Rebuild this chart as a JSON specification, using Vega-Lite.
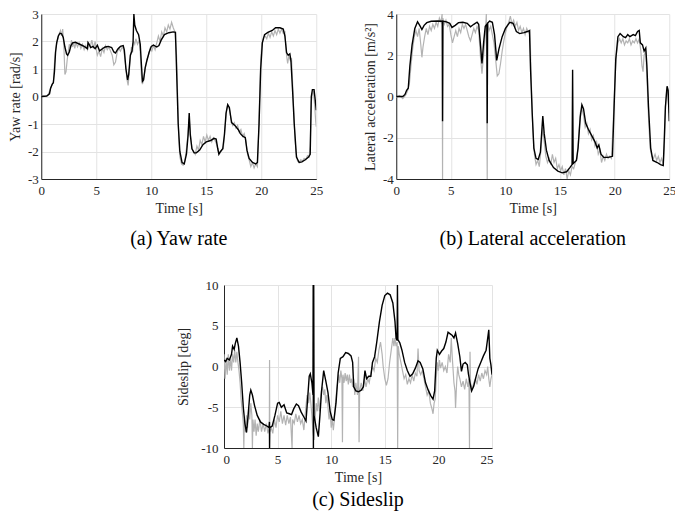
{
  "$schema": "https://vega.github.io/schema/vega-lite/v6.json",
  "padding": {"left": 8, "top": 8, "right": 2, "bottom": 4},
  "background": "white",
  "datasets": {
    "a_meas": [
      {"t":0,"v":0.02},{"t":0.3,"v":0.0},{"t":0.6,"v":0.04},{"t":0.8,"v":0.25},{"t":0.95,"v":0.4},{"t":1.1,"v":0.5},{"t":1.2,"v":1.2},{"t":1.3,"v":1.7},{"t":1.45,"v":2.0},{"t":1.6,"v":2.25},{"t":1.75,"v":2.4},{"t":1.85,"v":2.2},{"t":1.95,"v":2.45},{"t":2.05,"v":1.9},{"t":2.15,"v":0.8},{"t":2.25,"v":0.9},{"t":2.35,"v":1.3},{"t":2.45,"v":1.6},{"t":2.55,"v":1.9},{"t":2.65,"v":1.75},{"t":2.75,"v":2.05},{"t":2.85,"v":1.8},{"t":2.95,"v":1.95},{"t":3.05,"v":1.75},{"t":3.15,"v":1.95},{"t":3.3,"v":1.8},{"t":3.45,"v":1.95},{"t":3.6,"v":1.75},{"t":3.75,"v":1.9},{"t":3.9,"v":1.7},{"t":4.05,"v":1.85},{"t":4.2,"v":1.7},{"t":4.3,"v":1.95},{"t":4.45,"v":1.8},{"t":4.6,"v":2.05},{"t":4.75,"v":1.75},{"t":4.9,"v":2.0},{"t":5.0,"v":1.7},{"t":5.1,"v":1.5},{"t":5.25,"v":1.65},{"t":5.4,"v":1.45},{"t":5.55,"v":1.75},{"t":5.7,"v":1.6},{"t":5.85,"v":1.85},{"t":6.0,"v":1.7},{"t":6.15,"v":1.8},{"t":6.3,"v":1.65},{"t":6.45,"v":1.5},{"t":6.6,"v":1.15},{"t":6.75,"v":1.25},{"t":6.9,"v":1.6},{"t":7.05,"v":1.75},{"t":7.2,"v":1.65},{"t":7.35,"v":1.8},{"t":7.5,"v":1.7},{"t":7.65,"v":1.2},{"t":7.8,"v":0.6},{"t":7.9,"v":0.4},{"t":8.0,"v":0.9},{"t":8.1,"v":1.4},{"t":8.2,"v":1.8},{"t":8.3,"v":1.6},{"t":8.4,"v":2.0},{"t":8.5,"v":1.9},{"t":8.6,"v":2.1},{"t":8.75,"v":1.9},{"t":8.9,"v":2.05},{"t":9.0,"v":1.6},{"t":9.1,"v":0.8},{"t":9.2,"v":0.45},{"t":9.3,"v":0.6},{"t":9.45,"v":1.0},{"t":9.6,"v":1.35},{"t":9.75,"v":1.5},{"t":9.9,"v":1.75},{"t":10.05,"v":1.65},{"t":10.2,"v":1.85},{"t":10.35,"v":1.7},{"t":10.5,"v":1.95},{"t":10.65,"v":2.2},{"t":10.8,"v":2.0},{"t":10.95,"v":2.35},{"t":11.1,"v":2.2},{"t":11.25,"v":2.5},{"t":11.4,"v":2.35},{"t":11.55,"v":2.6},{"t":11.7,"v":2.45},{"t":11.85,"v":2.7},{"t":12.0,"v":2.5},{"t":12.15,"v":2.35},{"t":12.3,"v":1.5},{"t":12.4,"v":0.0},{"t":12.5,"v":-1.5},{"t":12.6,"v":-2.2},{"t":12.75,"v":-2.45},{"t":12.9,"v":-2.5},{"t":13.05,"v":-2.35},{"t":13.2,"v":-1.9},{"t":13.35,"v":-1.3},{"t":13.45,"v":-0.8},{"t":13.55,"v":-1.3},{"t":13.7,"v":-1.9},{"t":13.85,"v":-2.0},{"t":14.0,"v":-2.1},{"t":14.15,"v":-1.8},{"t":14.3,"v":-1.95},{"t":14.45,"v":-1.6},{"t":14.6,"v":-1.75},{"t":14.75,"v":-1.45},{"t":14.9,"v":-1.65},{"t":15.05,"v":-1.4},{"t":15.2,"v":-1.6},{"t":15.35,"v":-1.45},{"t":15.5,"v":-1.65},{"t":15.65,"v":-1.5},{"t":15.8,"v":-1.6},{"t":15.95,"v":-1.75},{"t":16.1,"v":-2.0},{"t":16.25,"v":-2.05},{"t":16.4,"v":-1.95},{"t":16.55,"v":-1.9},{"t":16.7,"v":-1.2},{"t":16.85,"v":-0.5},{"t":16.95,"v":-0.3},{"t":17.1,"v":-0.45},{"t":17.25,"v":-0.8},{"t":17.4,"v":-1.05},{"t":17.55,"v":-0.95},{"t":17.7,"v":-1.15},{"t":17.85,"v":-1.05},{"t":18.0,"v":-1.3},{"t":18.15,"v":-1.2},{"t":18.3,"v":-1.45},{"t":18.45,"v":-1.35},{"t":18.6,"v":-1.6},{"t":18.75,"v":-2.1},{"t":18.9,"v":-2.3},{"t":19.05,"v":-2.55},{"t":19.2,"v":-2.4},{"t":19.35,"v":-2.6},{"t":19.5,"v":-2.45},{"t":19.65,"v":-2.55},{"t":19.75,"v":-1.5},{"t":19.85,"v":0.0},{"t":19.95,"v":1.3},{"t":20.05,"v":1.9},{"t":20.2,"v":2.15},{"t":20.35,"v":2.2},{"t":20.5,"v":2.1},{"t":20.65,"v":2.3},{"t":20.8,"v":2.15},{"t":20.95,"v":2.35},{"t":21.1,"v":2.2},{"t":21.25,"v":2.4},{"t":21.4,"v":2.25},{"t":21.55,"v":2.45},{"t":21.7,"v":2.3},{"t":21.85,"v":2.45},{"t":22.0,"v":2.3},{"t":22.15,"v":2.35},{"t":22.3,"v":1.5},{"t":22.4,"v":1.2},{"t":22.5,"v":1.45},{"t":22.65,"v":1.3},{"t":22.75,"v":1.4},{"t":22.85,"v":0.5},{"t":22.95,"v":-0.5},{"t":23.05,"v":-1.4},{"t":23.15,"v":-2.0},{"t":23.3,"v":-2.35},{"t":23.45,"v":-2.4},{"t":23.6,"v":-2.3},{"t":23.75,"v":-2.35},{"t":23.9,"v":-2.25},{"t":24.05,"v":-2.3},{"t":24.2,"v":-2.15},{"t":24.35,"v":-2.2},{"t":24.45,"v":-1.8},{"t":24.55,"v":-0.2},{"t":24.65,"v":0.1},{"t":24.75,"v":0.2},{"t":24.85,"v":-0.3},{"t":24.95,"v":-0.9},{"t":25.0,"v":-1.1}
    ],
    "a_est": [
      {"t":0,"v":0},{"t":0.5,"v":0.02},{"t":0.75,"v":0.1},{"t":0.85,"v":0.3},{"t":1.0,"v":0.45},{"t":1.1,"v":0.5},{"t":1.2,"v":0.9},{"t":1.3,"v":1.6},{"t":1.4,"v":1.95},{"t":1.55,"v":2.2},{"t":1.7,"v":2.3},{"t":1.85,"v":2.28},{"t":2.0,"v":2.15},{"t":2.15,"v":1.8},{"t":2.3,"v":1.55},{"t":2.4,"v":1.5},{"t":2.55,"v":1.62},{"t":2.7,"v":1.85},{"t":2.85,"v":1.95},{"t":3.1,"v":1.97},{"t":3.5,"v":1.9},{"t":3.9,"v":1.82},{"t":4.2,"v":1.74},{"t":4.25,"v":1.96},{"t":4.35,"v":1.9},{"t":4.5,"v":1.78},{"t":4.7,"v":1.82},{"t":4.9,"v":1.74},{"t":5.1,"v":1.86},{"t":5.3,"v":1.66},{"t":5.5,"v":1.72},{"t":5.8,"v":1.8},{"t":6.1,"v":1.82},{"t":6.4,"v":1.78},{"t":6.6,"v":1.62},{"t":6.75,"v":1.58},{"t":6.95,"v":1.72},{"t":7.2,"v":1.82},{"t":7.45,"v":1.85},{"t":7.55,"v":1.7},{"t":7.7,"v":1.0},{"t":7.85,"v":0.6},{"t":7.95,"v":0.8},{"t":8.1,"v":1.5},{"t":8.25,"v":1.65},{"t":8.35,"v":2.0},{"t":8.42,"v":3.0},{"t":8.5,"v":2.6},{"t":8.65,"v":2.4},{"t":8.85,"v":2.25},{"t":9.0,"v":1.9},{"t":9.1,"v":1.2},{"t":9.2,"v":0.55},{"t":9.3,"v":0.6},{"t":9.45,"v":1.05},{"t":9.6,"v":1.3},{"t":9.8,"v":1.6},{"t":10.0,"v":1.82},{"t":10.2,"v":1.87},{"t":10.5,"v":1.8},{"t":10.7,"v":1.85},{"t":10.9,"v":2.05},{"t":11.2,"v":2.25},{"t":11.6,"v":2.32},{"t":12.0,"v":2.35},{"t":12.2,"v":2.33},{"t":12.3,"v":1.0},{"t":12.45,"v":-1.0},{"t":12.6,"v":-2.0},{"t":12.8,"v":-2.4},{"t":13.0,"v":-2.45},{"t":13.2,"v":-2.1},{"t":13.35,"v":-1.4},{"t":13.45,"v":-0.6},{"t":13.55,"v":-1.4},{"t":13.7,"v":-1.9},{"t":13.9,"v":-2.05},{"t":14.1,"v":-2.05},{"t":14.4,"v":-1.95},{"t":14.7,"v":-1.75},{"t":15.0,"v":-1.65},{"t":15.4,"v":-1.6},{"t":15.7,"v":-1.52},{"t":15.9,"v":-1.55},{"t":16.05,"v":-1.9},{"t":16.15,"v":-2.1},{"t":16.3,"v":-2.0},{"t":16.5,"v":-1.9},{"t":16.65,"v":-1.4},{"t":16.8,"v":-0.6},{"t":16.95,"v":-0.3},{"t":17.1,"v":-0.4},{"t":17.3,"v":-0.95},{"t":17.6,"v":-1.05},{"t":17.9,"v":-1.2},{"t":18.1,"v":-1.35},{"t":18.35,"v":-1.45},{"t":18.55,"v":-1.5},{"t":18.7,"v":-1.95},{"t":18.9,"v":-2.25},{"t":19.2,"v":-2.4},{"t":19.5,"v":-2.45},{"t":19.65,"v":-2.4},{"t":19.8,"v":-1.0},{"t":19.95,"v":1.0},{"t":20.1,"v":1.95},{"t":20.3,"v":2.25},{"t":20.6,"v":2.33},{"t":21.0,"v":2.4},{"t":21.3,"v":2.5},{"t":21.7,"v":2.5},{"t":22.0,"v":2.45},{"t":22.15,"v":2.2},{"t":22.3,"v":1.6},{"t":22.45,"v":1.5},{"t":22.6,"v":1.55},{"t":22.7,"v":1.3},{"t":22.85,"v":0.2},{"t":23.0,"v":-1.0},{"t":23.2,"v":-2.2},{"t":23.45,"v":-2.4},{"t":23.7,"v":-2.38},{"t":24.0,"v":-2.3},{"t":24.3,"v":-2.2},{"t":24.45,"v":-2.1},{"t":24.55,"v":0.0},{"t":24.65,"v":0.25},{"t":24.8,"v":0.25},{"t":24.9,"v":-0.1},{"t":25.0,"v":-0.5}
    ],
    "b_meas": [
      {"t":0,"v":-0.05},{"t":0.3,"v":0.05},{"t":0.6,"v":-0.1},{"t":0.9,"v":0.1},{"t":1.05,"v":0.3},{"t":1.2,"v":0.6},{"t":1.35,"v":1.5},{"t":1.5,"v":2.3},{"t":1.65,"v":2.9},{"t":1.8,"v":3.2},{"t":1.95,"v":2.9},{"t":2.1,"v":3.3},{"t":2.25,"v":2.5},{"t":2.35,"v":1.9},{"t":2.45,"v":2.4},{"t":2.6,"v":2.9},{"t":2.75,"v":3.3},{"t":2.9,"v":3.0},{"t":3.05,"v":3.4},{"t":3.2,"v":3.2},{"t":3.35,"v":3.5},{"t":3.5,"v":3.3},{"t":3.65,"v":3.6},{"t":3.8,"v":3.4},{"t":3.95,"v":3.8},{"t":4.1,"v":3.6},{"t":4.2,"v":4.0},{"t":4.24,"v":-4.0},{"t":4.27,"v":3.8},{"t":4.4,"v":3.5},{"t":4.55,"v":3.7},{"t":4.7,"v":3.4},{"t":4.85,"v":3.5},{"t":5.0,"v":3.0},{"t":5.15,"v":2.6},{"t":5.3,"v":2.9},{"t":5.45,"v":3.2},{"t":5.6,"v":2.9},{"t":5.75,"v":3.3},{"t":5.9,"v":3.1},{"t":6.05,"v":3.5},{"t":6.2,"v":3.3},{"t":6.35,"v":3.5},{"t":6.5,"v":3.2},{"t":6.65,"v":2.9},{"t":6.8,"v":2.7},{"t":6.95,"v":3.0},{"t":7.1,"v":3.3},{"t":7.25,"v":3.1},{"t":7.4,"v":3.4},{"t":7.55,"v":3.2},{"t":7.7,"v":2.0},{"t":7.85,"v":1.1},{"t":8.0,"v":2.0},{"t":8.15,"v":3.0},{"t":8.25,"v":4.0},{"t":8.33,"v":-4.0},{"t":8.37,"v":3.6},{"t":8.5,"v":3.2},{"t":8.65,"v":3.4},{"t":8.8,"v":3.0},{"t":8.95,"v":2.6},{"t":9.1,"v":1.8},{"t":9.25,"v":1.0},{"t":9.4,"v":1.1},{"t":9.55,"v":1.6},{"t":9.7,"v":2.2},{"t":9.85,"v":2.7},{"t":10.0,"v":3.1},{"t":10.15,"v":3.4},{"t":10.3,"v":3.6},{"t":10.45,"v":3.9},{"t":10.6,"v":3.5},{"t":10.75,"v":3.7},{"t":10.9,"v":3.4},{"t":11.05,"v":3.6},{"t":11.2,"v":3.2},{"t":11.35,"v":3.4},{"t":11.5,"v":3.1},{"t":11.65,"v":3.3},{"t":11.8,"v":3.0},{"t":11.95,"v":3.3},{"t":12.1,"v":3.1},{"t":12.25,"v":3.2},{"t":12.35,"v":1.0},{"t":12.5,"v":-1.5},{"t":12.65,"v":-2.8},{"t":12.8,"v":-3.3},{"t":12.95,"v":-3.1},{"t":13.1,"v":-3.4},{"t":13.25,"v":-2.6},{"t":13.4,"v":-1.5},{"t":13.55,"v":-2.2},{"t":13.7,"v":-2.9},{"t":13.85,"v":-3.2},{"t":14.0,"v":-3.0},{"t":14.15,"v":-3.3},{"t":14.3,"v":-2.8},{"t":14.45,"v":-3.2},{"t":14.6,"v":-3.0},{"t":14.75,"v":-3.5},{"t":14.9,"v":-3.3},{"t":15.05,"v":-3.6},{"t":15.2,"v":-3.4},{"t":15.35,"v":-3.8},{"t":15.5,"v":-3.5},{"t":15.65,"v":-4.0},{"t":15.8,"v":-3.6},{"t":15.95,"v":-3.8},{"t":16.1,"v":-3.4},{"t":16.25,"v":-3.5},{"t":16.4,"v":-3.2},{"t":16.55,"v":-3.0},{"t":16.7,"v":-2.0},{"t":16.85,"v":-0.8},{"t":17.0,"v":-0.6},{"t":17.15,"v":-0.9},{"t":17.3,"v":-1.5},{"t":17.45,"v":-1.3},{"t":17.6,"v":-1.8},{"t":17.75,"v":-1.6},{"t":17.9,"v":-2.1},{"t":18.05,"v":-1.9},{"t":18.2,"v":-2.4},{"t":18.35,"v":-2.2},{"t":18.5,"v":-2.8},{"t":18.65,"v":-2.6},{"t":18.8,"v":-3.2},{"t":18.95,"v":-2.9},{"t":19.1,"v":-3.1},{"t":19.25,"v":-2.8},{"t":19.4,"v":-3.0},{"t":19.55,"v":-2.9},{"t":19.7,"v":-3.0},{"t":19.85,"v":-1.5},{"t":20.0,"v":0.5},{"t":20.15,"v":2.0},{"t":20.3,"v":2.6},{"t":20.45,"v":2.8},{"t":20.6,"v":2.6},{"t":20.75,"v":2.8},{"t":20.9,"v":2.5},{"t":21.05,"v":2.7},{"t":21.2,"v":2.6},{"t":21.35,"v":2.8},{"t":21.5,"v":2.5},{"t":21.65,"v":2.7},{"t":21.8,"v":2.6},{"t":21.95,"v":2.8},{"t":22.1,"v":2.6},{"t":22.25,"v":2.8},{"t":22.4,"v":2.2},{"t":22.5,"v":1.5},{"t":22.6,"v":1.2},{"t":22.7,"v":2.0},{"t":22.85,"v":2.2},{"t":22.95,"v":1.0},{"t":23.1,"v":-1.0},{"t":23.25,"v":-2.5},{"t":23.4,"v":-2.9},{"t":23.55,"v":-3.0},{"t":23.7,"v":-2.8},{"t":23.85,"v":-3.1},{"t":24.0,"v":-2.9},{"t":24.15,"v":-3.2},{"t":24.3,"v":-3.0},{"t":24.45,"v":-3.3},{"t":24.55,"v":-2.5},{"t":24.65,"v":-0.5},{"t":24.75,"v":0.3},{"t":24.85,"v":0.2},{"t":24.95,"v":-0.5},{"t":25.0,"v":-0.8}
    ],
    "b_est": [
      {"t":0,"v":0},{"t":0.6,"v":0.0},{"t":0.8,"v":0.1},{"t":0.95,"v":0.3},{"t":1.1,"v":0.4},{"t":1.25,"v":1.5},{"t":1.45,"v":2.5},{"t":1.7,"v":3.3},{"t":1.95,"v":3.62},{"t":2.15,"v":3.45},{"t":2.35,"v":3.25},{"t":2.55,"v":3.45},{"t":2.8,"v":3.58},{"t":3.2,"v":3.65},{"t":3.8,"v":3.66},{"t":4.22,"v":3.65},{"t":4.24,"v":-1.2},{"t":4.27,"v":3.66},{"t":4.6,"v":3.62},{"t":4.9,"v":3.55},{"t":5.1,"v":3.35},{"t":5.4,"v":3.45},{"t":5.7,"v":3.58},{"t":6.1,"v":3.6},{"t":6.5,"v":3.55},{"t":6.8,"v":3.38},{"t":7.1,"v":3.5},{"t":7.4,"v":3.6},{"t":7.55,"v":3.5},{"t":7.7,"v":2.6},{"t":7.85,"v":1.6},{"t":8.0,"v":2.6},{"t":8.15,"v":3.4},{"t":8.3,"v":3.5},{"t":8.33,"v":-1.3},{"t":8.36,"v":3.55},{"t":8.55,"v":3.66},{"t":8.8,"v":3.6},{"t":9.0,"v":3.0},{"t":9.2,"v":1.75},{"t":9.4,"v":2.3},{"t":9.7,"v":2.9},{"t":10.0,"v":3.3},{"t":10.4,"v":3.6},{"t":10.7,"v":3.55},{"t":11.0,"v":3.15},{"t":11.3,"v":3.05},{"t":11.7,"v":3.1},{"t":12.0,"v":3.15},{"t":12.2,"v":3.2},{"t":12.3,"v":1.3},{"t":12.45,"v":-0.8},{"t":12.6,"v":-2.5},{"t":12.8,"v":-3.0},{"t":13.0,"v":-3.05},{"t":13.2,"v":-2.7},{"t":13.35,"v":-1.5},{"t":13.42,"v":-0.95},{"t":13.55,"v":-1.8},{"t":13.75,"v":-2.6},{"t":14.0,"v":-3.1},{"t":14.4,"v":-3.45},{"t":14.8,"v":-3.62},{"t":15.2,"v":-3.7},{"t":15.6,"v":-3.65},{"t":15.9,"v":-3.45},{"t":16.1,"v":-3.3},{"t":16.15,"v":1.3},{"t":16.2,"v":-3.25},{"t":16.5,"v":-3.1},{"t":16.65,"v":-2.5},{"t":16.85,"v":-1.0},{"t":17.0,"v":-0.4},{"t":17.15,"v":-0.6},{"t":17.35,"v":-1.3},{"t":17.6,"v":-1.6},{"t":17.9,"v":-1.9},{"t":18.2,"v":-2.2},{"t":18.4,"v":-2.5},{"t":18.55,"v":-2.35},{"t":18.75,"v":-2.8},{"t":19.0,"v":-2.95},{"t":19.4,"v":-2.95},{"t":19.8,"v":-2.9},{"t":19.95,"v":-0.5},{"t":20.1,"v":1.8},{"t":20.3,"v":2.9},{"t":20.5,"v":3.05},{"t":20.8,"v":2.9},{"t":21.0,"v":2.85},{"t":21.2,"v":3.0},{"t":21.4,"v":2.9},{"t":21.7,"v":3.0},{"t":21.9,"v":2.95},{"t":22.1,"v":3.15},{"t":22.25,"v":3.2},{"t":22.35,"v":2.6},{"t":22.55,"v":2.5},{"t":22.7,"v":2.2},{"t":22.85,"v":2.35},{"t":22.95,"v":1.5},{"t":23.1,"v":-0.5},{"t":23.3,"v":-2.5},{"t":23.5,"v":-3.1},{"t":23.9,"v":-3.2},{"t":24.2,"v":-3.3},{"t":24.45,"v":-3.35},{"t":24.55,"v":-2.0},{"t":24.65,"v":-0.5},{"t":24.8,"v":0.5},{"t":24.9,"v":0.3},{"t":25.0,"v":-1.2}
    ],
    "c_meas": [
      {"t":0,"v":1.5},{"t":0.1,"v":-1.5},{"t":0.2,"v":1.0},{"t":0.3,"v":-1.0},{"t":0.4,"v":1.5},{"t":0.5,"v":-0.5},{"t":0.6,"v":1.0},{"t":0.7,"v":-0.5},{"t":0.8,"v":1.5},{"t":0.9,"v":0.5},{"t":1.0,"v":2.0},{"t":1.1,"v":0.5},{"t":1.2,"v":1.8},{"t":1.3,"v":0.5},{"t":1.4,"v":-0.5},{"t":1.5,"v":-2.0},{"t":1.6,"v":-4.0},{"t":1.7,"v":-5.5},{"t":1.8,"v":-7.0},{"t":1.85,"v":-10},{"t":1.9,"v":-6.5},{"t":2.0,"v":-8.0},{"t":2.1,"v":-6.0},{"t":2.2,"v":-7.5},{"t":2.3,"v":-5.0},{"t":2.4,"v":-6.5},{"t":2.5,"v":-4.5},{"t":2.6,"v":-6.0},{"t":2.65,"v":-10},{"t":2.7,"v":-6.5},{"t":2.8,"v":-8.0},{"t":2.9,"v":-6.5},{"t":3.0,"v":-8.5},{"t":3.1,"v":-7.0},{"t":3.2,"v":-8.0},{"t":3.35,"v":-6.5},{"t":3.5,"v":-8.0},{"t":3.65,"v":-7.0},{"t":3.8,"v":-8.0},{"t":3.95,"v":-7.0},{"t":4.1,"v":-8.2},{"t":4.23,"v":-7.5},{"t":4.25,"v":0.8},{"t":4.27,"v":-8.0},{"t":4.4,"v":-7.5},{"t":4.55,"v":-8.2},{"t":4.7,"v":-6.5},{"t":4.85,"v":-7.5},{"t":5.0,"v":-6.0},{"t":5.15,"v":-6.8},{"t":5.3,"v":-5.5},{"t":5.45,"v":-7.0},{"t":5.6,"v":-6.0},{"t":5.75,"v":-7.2},{"t":5.9,"v":-6.0},{"t":6.05,"v":-7.0},{"t":6.2,"v":-6.2},{"t":6.35,"v":-10},{"t":6.4,"v":-6.5},{"t":6.55,"v":-7.0},{"t":6.7,"v":-5.8},{"t":6.85,"v":-6.8},{"t":7.0,"v":-6.0},{"t":7.15,"v":-7.0},{"t":7.3,"v":-6.5},{"t":7.45,"v":-7.8},{"t":7.6,"v":-5.5},{"t":7.75,"v":-3.5},{"t":7.9,"v":-4.5},{"t":8.0,"v":-3.2},{"t":8.1,"v":-4.5},{"t":8.2,"v":-6.0},{"t":8.3,"v":-8.0},{"t":8.4,"v":-9.0},{"t":8.5,"v":-6.5},{"t":8.6,"v":-4.5},{"t":8.7,"v":-5.5},{"t":8.8,"v":-3.8},{"t":8.9,"v":-5.5},{"t":9.0,"v":-4.0},{"t":9.1,"v":-3.0},{"t":9.2,"v":-2.5},{"t":9.3,"v":-3.5},{"t":9.4,"v":-2.8},{"t":9.5,"v":-4.5},{"t":9.6,"v":-3.5},{"t":9.7,"v":-5.0},{"t":9.8,"v":-6.5},{"t":9.9,"v":-5.5},{"t":10.0,"v":-7.5},{"t":10.1,"v":-6.5},{"t":10.2,"v":-7.8},{"t":10.3,"v":-6.5},{"t":10.4,"v":-4.5},{"t":10.5,"v":-3.0},{"t":10.6,"v":-2.0},{"t":10.7,"v":-1.0},{"t":10.8,"v":-2.0},{"t":10.9,"v":-0.5},{"t":11.0,"v":-1.5},{"t":11.05,"v":-9.3},{"t":11.1,"v":-1.0},{"t":11.2,"v":-2.0},{"t":11.3,"v":-0.8},{"t":11.4,"v":-1.8},{"t":11.5,"v":-1.0},{"t":11.6,"v":-2.2},{"t":11.7,"v":-1.0},{"t":11.8,"v":-2.0},{"t":11.9,"v":-1.5},{"t":12.0,"v":-2.5},{"t":12.1,"v":-1.5},{"t":12.2,"v":-3.5},{"t":12.3,"v":-2.0},{"t":12.45,"v":-3.5},{"t":12.55,"v":1.2},{"t":12.6,"v":-9.3},{"t":12.65,"v":-3.0},{"t":12.8,"v":-2.0},{"t":12.95,"v":-3.0},{"t":13.1,"v":-1.5},{"t":13.25,"v":-2.5},{"t":13.4,"v":-1.5},{"t":13.55,"v":-2.0},{"t":13.7,"v":-0.8},{"t":13.85,"v":0.0},{"t":14.0,"v":-0.5},{"t":14.15,"v":1.0},{"t":14.3,"v":0.5},{"t":14.45,"v":2.0},{"t":14.6,"v":3.0},{"t":14.75,"v":1.5},{"t":14.85,"v":0.0},{"t":15.0,"v":-1.5},{"t":15.15,"v":-2.3},{"t":15.3,"v":-1.5},{"t":15.45,"v":0.5},{"t":15.6,"v":2.0},{"t":15.75,"v":3.5},{"t":15.85,"v":2.5},{"t":15.95,"v":3.5},{"t":16.05,"v":2.5},{"t":16.15,"v":3.0},{"t":16.2,"v":-10},{"t":16.25,"v":2.5},{"t":16.35,"v":1.5},{"t":16.5,"v":0.5},{"t":16.65,"v":-0.5},{"t":16.8,"v":-1.5},{"t":16.95,"v":-1.0},{"t":17.1,"v":-2.2},{"t":17.25,"v":-1.5},{"t":17.4,"v":-2.0},{"t":17.55,"v":-1.0},{"t":17.7,"v":-1.8},{"t":17.85,"v":-0.8},{"t":18.0,"v":-1.2},{"t":18.1,"v":2.2},{"t":18.2,"v":-0.5},{"t":18.35,"v":-1.0},{"t":18.5,"v":-0.5},{"t":18.65,"v":-1.5},{"t":18.8,"v":-2.5},{"t":18.95,"v":-3.5},{"t":19.1,"v":-3.0},{"t":19.25,"v":-4.5},{"t":19.4,"v":-5.2},{"t":19.5,"v":-5.8},{"t":19.6,"v":-4.5},{"t":19.7,"v":-4.0},{"t":19.8,"v":-1.5},{"t":19.9,"v":0.5},{"t":20.0,"v":-0.5},{"t":20.1,"v":0.8},{"t":20.2,"v":-0.2},{"t":20.35,"v":0.5},{"t":20.5,"v":-0.5},{"t":20.65,"v":0.0},{"t":20.8,"v":-0.8},{"t":20.95,"v":1.5},{"t":21.1,"v":0.5},{"t":21.2,"v":3.5},{"t":21.3,"v":1.0},{"t":21.45,"v":-2.0},{"t":21.55,"v":-3.0},{"t":21.6,"v":-5.1},{"t":21.7,"v":-2.0},{"t":21.8,"v":0.0},{"t":21.9,"v":-1.0},{"t":22.0,"v":-1.5},{"t":22.15,"v":-2.5},{"t":22.3,"v":-1.8},{"t":22.45,"v":-2.8},{"t":22.6,"v":-1.5},{"t":22.75,"v":-2.5},{"t":22.85,"v":-1.5},{"t":22.9,"v":-10},{"t":22.95,"v":1.8},{"t":23.0,"v":-2.0},{"t":23.15,"v":-2.8},{"t":23.3,"v":-2.0},{"t":23.45,"v":-1.5},{"t":23.6,"v":-2.2},{"t":23.75,"v":-1.0},{"t":23.9,"v":-1.8},{"t":24.05,"v":-0.8},{"t":24.2,"v":-1.5},{"t":24.35,"v":-0.5},{"t":24.5,"v":-1.0},{"t":24.6,"v":0.0},{"t":24.7,"v":-1.5},{"t":24.8,"v":-2.5},{"t":24.9,"v":-1.5},{"t":25.0,"v":-1.0}
    ],
    "c_est": [
      {"t":0,"v":0.8},{"t":0.15,"v":0.6},{"t":0.3,"v":1.0},{"t":0.5,"v":0.8},{"t":0.7,"v":1.5},{"t":0.8,"v":2.5},{"t":0.95,"v":2.1},{"t":1.05,"v":2.8},{"t":1.2,"v":3.5},{"t":1.35,"v":2.5},{"t":1.5,"v":0.5},{"t":1.65,"v":-2.0},{"t":1.8,"v":-5.0},{"t":1.95,"v":-7.0},{"t":2.1,"v":-8.1},{"t":2.25,"v":-6.0},{"t":2.4,"v":-3.5},{"t":2.5,"v":-2.9},{"t":2.65,"v":-3.5},{"t":2.85,"v":-4.8},{"t":3.1,"v":-6.0},{"t":3.4,"v":-6.8},{"t":3.7,"v":-7.1},{"t":4.0,"v":-7.3},{"t":4.2,"v":-7.5},{"t":4.24,"v":-6.8},{"t":4.25,"v":-10},{"t":4.27,"v":-7.5},{"t":4.5,"v":-7.3},{"t":4.75,"v":-6.0},{"t":5.0,"v":-4.5},{"t":5.15,"v":-4.4},{"t":5.35,"v":-5.0},{"t":5.6,"v":-4.7},{"t":5.85,"v":-5.7},{"t":6.1,"v":-5.8},{"t":6.3,"v":-5.9},{"t":6.5,"v":-5.2},{"t":6.75,"v":-4.6},{"t":6.95,"v":-4.8},{"t":7.2,"v":-5.6},{"t":7.45,"v":-6.2},{"t":7.65,"v":-6.7},{"t":7.8,"v":-4.0},{"t":7.95,"v":-1.2},{"t":8.05,"v":-0.9},{"t":8.2,"v":-2.0},{"t":8.3,"v":-3.5},{"t":8.32,"v":10},{"t":8.34,"v":-10},{"t":8.37,"v":10},{"t":8.4,"v":-6.0},{"t":8.6,"v":-7.5},{"t":8.8,"v":-8.6},{"t":8.95,"v":-6.0},{"t":9.1,"v":-3.0},{"t":9.3,"v":-0.5},{"t":9.5,"v":-1.8},{"t":9.7,"v":-3.2},{"t":9.9,"v":-5.5},{"t":10.1,"v":-6.5},{"t":10.25,"v":-6.6},{"t":10.45,"v":-4.5},{"t":10.65,"v":-0.8},{"t":10.85,"v":1.0},{"t":11.1,"v":1.2},{"t":11.35,"v":1.7},{"t":11.6,"v":1.6},{"t":11.85,"v":1.3},{"t":12.0,"v":0.5},{"t":12.1,"v":-2.5},{"t":12.3,"v":-3.0},{"t":12.55,"v":-3.1},{"t":12.8,"v":-2.9},{"t":13.0,"v":-2.5},{"t":13.15,"v":-0.5},{"t":13.3,"v":-1.5},{"t":13.5,"v":-1.2},{"t":13.7,"v":-1.2},{"t":13.85,"v":0.5},{"t":14.05,"v":1.2},{"t":14.25,"v":3.0},{"t":14.5,"v":5.5},{"t":14.75,"v":7.5},{"t":15.0,"v":8.7},{"t":15.25,"v":9.0},{"t":15.5,"v":8.8},{"t":15.75,"v":7.8},{"t":15.95,"v":5.5},{"t":16.05,"v":3.5},{"t":16.15,"v":3.2},{"t":16.18,"v":10},{"t":16.22,"v":3.3},{"t":16.4,"v":2.9},{"t":16.6,"v":2.0},{"t":16.85,"v":0.5},{"t":17.1,"v":-0.5},{"t":17.35,"v":-1.2},{"t":17.6,"v":-0.9},{"t":17.85,"v":-0.2},{"t":18.1,"v":0.7},{"t":18.3,"v":0.5},{"t":18.55,"v":-0.3},{"t":18.8,"v":-2.0},{"t":19.05,"v":-2.9},{"t":19.3,"v":-3.6},{"t":19.5,"v":-4.0},{"t":19.65,"v":-3.0},{"t":19.8,"v":1.0},{"t":19.9,"v":2.0},{"t":20.1,"v":1.5},{"t":20.3,"v":1.9},{"t":20.5,"v":2.2},{"t":20.7,"v":3.0},{"t":20.9,"v":4.2},{"t":21.1,"v":4.0},{"t":21.3,"v":3.8},{"t":21.45,"v":3.5},{"t":21.6,"v":4.1},{"t":21.8,"v":2.8},{"t":22.0,"v":1.2},{"t":22.15,"v":-0.6},{"t":22.3,"v":0.3},{"t":22.5,"v":0.5},{"t":22.7,"v":0.2},{"t":22.8,"v":-0.9},{"t":22.95,"v":-2.0},{"t":23.1,"v":-3.0},{"t":23.3,"v":-2.4},{"t":23.5,"v":-1.3},{"t":23.7,"v":-0.3},{"t":23.95,"v":0.5},{"t":24.2,"v":1.3},{"t":24.45,"v":2.0},{"t":24.55,"v":3.0},{"t":24.7,"v":4.5},{"t":24.8,"v":1.0},{"t":24.9,"v":0.2},{"t":25.0,"v":-1.0}
    ]
  },
  "vconcat": [
    {
      "hconcat": [
        {
          "width": 275, "height": 165,
          "title": {"text": "(a) Yaw rate"},
          "encoding": {
            "x": {"field": "t", "type": "quantitative", "title": "Time [s]", "scale": {"domain": [0, 25], "nice": false}, "axis": {"values": [0, 5, 10, 15, 20, 25]}},
            "y": {"field": "v", "type": "quantitative", "title": "Yaw rate [rad/s]", "scale": {"domain": [-3, 3], "nice": false}, "axis": {"values": [-3, -2, -1, 0, 1, 2, 3]}}
          },
          "layer": [
            {"data": {"name": "a_meas"}, "mark": {"type": "line", "color": "#b3b3b3", "strokeWidth": 1.2, "clip": true}},
            {"data": {"name": "a_est"}, "mark": {"type": "line", "color": "#000000", "strokeWidth": 1.4, "clip": true}}
          ]
        },
        {
          "width": 273, "height": 165,
          "title": {"text": "(b) Lateral acceleration"},
          "encoding": {
            "x": {"field": "t", "type": "quantitative", "title": "Time [s]", "scale": {"domain": [0, 25], "nice": false}, "axis": {"values": [0, 5, 10, 15, 20, 25]}},
            "y": {"field": "v", "type": "quantitative", "title": "Lateral acceleration [m/s²]", "scale": {"domain": [-4, 4], "nice": false}, "axis": {"values": [-4, -2, 0, 2, 4]}}
          },
          "layer": [
            {"data": {"name": "b_meas"}, "mark": {"type": "line", "color": "#b3b3b3", "strokeWidth": 1.2, "clip": true}},
            {"data": {"name": "b_est"}, "mark": {"type": "line", "color": "#000000", "strokeWidth": 1.4, "clip": true}}
          ]
        }
      ],
      "spacing": 40
    },
    {
      "width": 268, "height": 163,
      "title": {"text": "(c) Sideslip", "offset": 6},
      "encoding": {
        "x": {"field": "t", "type": "quantitative", "title": "Time [s]", "scale": {"domain": [0, 25], "nice": false}, "axis": {"values": [0, 5, 10, 15, 20, 25], "labelFlush": true, "labelFlushOffset": 1}},
        "y": {"field": "v", "type": "quantitative", "title": "Sideslip [deg]", "scale": {"domain": [-10, 10], "nice": false}, "axis": {"values": [-10, -5, 0, 5, 10], "labelPadding": 6, "titlePadding": 10}}
      },
      "layer": [
        {"data": {"name": "c_meas"}, "mark": {"type": "line", "color": "#b3b3b3", "strokeWidth": 1.2, "clip": true}},
        {"data": {"name": "c_est"}, "mark": {"type": "line", "color": "#000000", "strokeWidth": 1.4, "clip": true}}
      ]
    }
  ],
  "spacing": 30,
  "center": true,
  "config": {
    "view": {"stroke": null},
    "font": "Liberation Serif, Times New Roman, Times, serif",
    "title": {"font": "Liberation Serif, Times New Roman, Times, serif", "fontSize": 20, "fontWeight": "normal", "color": "#000000", "orient": "bottom", "anchor": "middle", "offset": 14},
    "axis": {
      "labelFont": "Liberation Serif, Times New Roman, Times, serif", "titleFont": "Liberation Serif, Times New Roman, Times, serif",
      "labelFontSize": 13, "titleFontSize": 14, "titleFontWeight": "normal",
      "labelColor": "#262626", "titleColor": "#262626",
      "gridColor": "#e3e3e3", "gridWidth": 1,
      "domainColor": "#262626", "domainWidth": 1,
      "ticks": false,
      "labelFlush": false, "labelOverlap": false,
      "labelExpr": "replace(datum.label, '\u2212', '-')"
    },
    "axisX": {"labelPadding": 5, "titlePadding": 4},
    "axisY": {"labelPadding": 3, "titlePadding": 5}
  }
}
